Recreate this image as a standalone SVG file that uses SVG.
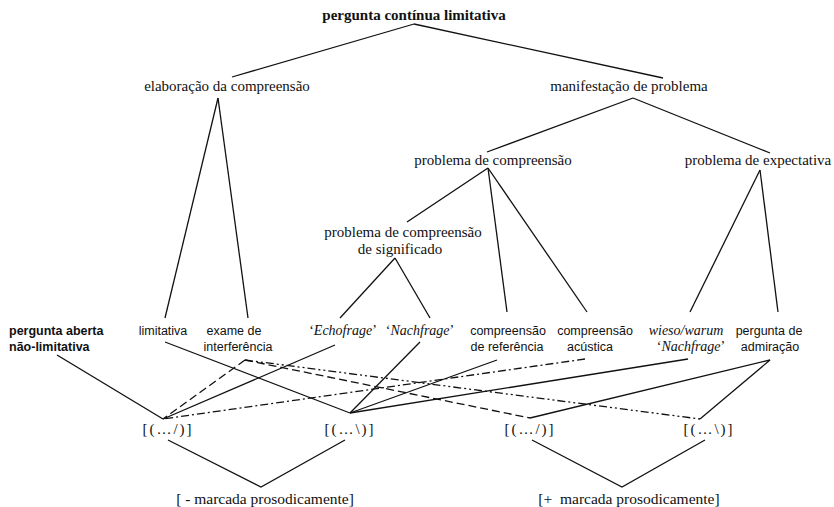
<svg xmlns="http://www.w3.org/2000/svg" width="834" height="507" viewBox="0 0 834 507">
<style>
.t{font-family:"Liberation Serif","Times New Roman",serif;font-size:15px;fill:#111;text-anchor:middle}
.tb{font-weight:bold}
.s{font-family:"Liberation Sans",Arial,sans-serif;font-size:12.5px;fill:#111;text-anchor:middle}
.sb{font-weight:bold;text-anchor:start}
.i{font-family:"Liberation Serif","Times New Roman",serif;font-size:14px;fill:#111;text-anchor:middle}
.it{font-style:italic}
.br{letter-spacing:2px}
.pre{white-space:pre}
line,polyline{stroke:#111;stroke-width:1.3;fill:none}
.dash{stroke-dasharray:8,4}
.dd{stroke-dasharray:8,3,2,3}
.ddd{stroke-dasharray:8,3,2,3,2,3}
</style>
<rect width="834" height="507" fill="#fff"/>
<g id="connectors">
<line x1="414" y1="24" x2="232" y2="77"/>
<line x1="414" y1="24" x2="663" y2="78"/>
<line x1="218" y1="98" x2="165" y2="318"/>
<line x1="218" y1="98" x2="248" y2="318"/>
<line x1="633" y1="98" x2="487" y2="152"/>
<line x1="633" y1="98" x2="770" y2="153"/>
<line x1="488" y1="168" x2="407" y2="222"/>
<line x1="488" y1="168" x2="507" y2="312"/>
<line x1="488" y1="168" x2="587" y2="312"/>
<line x1="395" y1="258" x2="340" y2="318"/>
<line x1="395" y1="258" x2="430" y2="318"/>
<line x1="760" y1="170" x2="690" y2="312"/>
<line x1="760" y1="170" x2="778" y2="312"/>
<line x1="57" y1="355" x2="163" y2="419"/>
<line x1="165" y1="342" x2="350" y2="413"/>
<line class="dash" x1="245" y1="360" x2="163" y2="419"/>
<line class="dash" x1="245" y1="360" x2="530" y2="418"/>
<line class="ddd" x1="245" y1="360" x2="700" y2="419"/>
<line x1="335" y1="345" x2="163" y2="419"/>
<line x1="420" y1="342" x2="350" y2="413"/>
<line x1="497" y1="360" x2="350" y2="413"/>
<line class="dd" x1="585" y1="359" x2="163" y2="419"/>
<line x1="688" y1="359" x2="350" y2="413"/>
<line x1="770" y1="360" x2="530" y2="418"/>
<line x1="770" y1="360" x2="700" y2="419"/>
<polyline points="168,440 261,487 345,440"/>
<polyline points="532,440 622,487 705,440"/>
</g>
<g id="n-root"><text class="t tb" x="414" y="20">pergunta contínua limitativa</text></g>
<g id="n-elab"><text class="t" x="227" y="91">elaboração da compreensão</text></g>
<g id="n-manif"><text class="t" x="629" y="91">manifestação de problema</text></g>
<g id="n-pcomp"><text class="t" x="493" y="165">problema de compreensão</text></g>
<g id="n-pexp"><text class="t" x="758" y="165">problema de expectativa</text></g>
<g id="n-psig"><text class="t" x="403" y="237">problema de compreensão</text><text class="t" x="400" y="254">de significado</text></g>
<g id="n-aberta"><text class="s sb" x="9" y="335">pergunta aberta</text><text class="s sb" x="9" y="351">não-limitativa</text></g>
<g id="n-limit"><text class="s" x="163" y="335">limitativa</text></g>
<g id="n-exame"><text class="s" x="234" y="335">exame de</text><text class="s" x="238" y="351">interferência</text></g>
<g id="n-echo"><text class="i" x="343" y="335">‘<tspan class="it">Echofrage</tspan>’</text></g>
<g id="n-nach"><text class="i" x="420" y="335">‘<tspan class="it">Nachfrage</tspan>’</text></g>
<g id="n-ref"><text class="s" x="508" y="335">compreensão</text><text class="s" x="507" y="351">de referência</text></g>
<g id="n-acus"><text class="s" x="595" y="335">compreensão</text><text class="s" x="590" y="351">acústica</text></g>
<g id="n-wieso"><text class="i it" x="686" y="335">wieso/warum</text><text class="i" x="691" y="351">‘<tspan class="it">Nachfrage</tspan>’</text></g>
<g id="n-admir"><text class="s" x="769" y="335">pergunta de</text><text class="s" x="770" y="351">admiração</text></g>
<g id="n-b1"><text class="t br" x="168" y="434">[(…/)]</text></g>
<g id="n-b2"><text class="t br" x="350" y="434">[(…\)]</text></g>
<g id="n-b3"><text class="t br" x="530" y="434">[(…/)]</text></g>
<g id="n-b4"><text class="t br" x="709" y="434">[(…\)]</text></g>
<g id="n-minus"><text class="t" x="265" y="504" style="font-size:15.5px">[ - marcada prosodicamente]</text></g>
<g id="n-plus"><text class="t pre" x="629" y="504" style="font-size:15.5px">[+  marcada prosodicamente]</text></g>
</svg>
